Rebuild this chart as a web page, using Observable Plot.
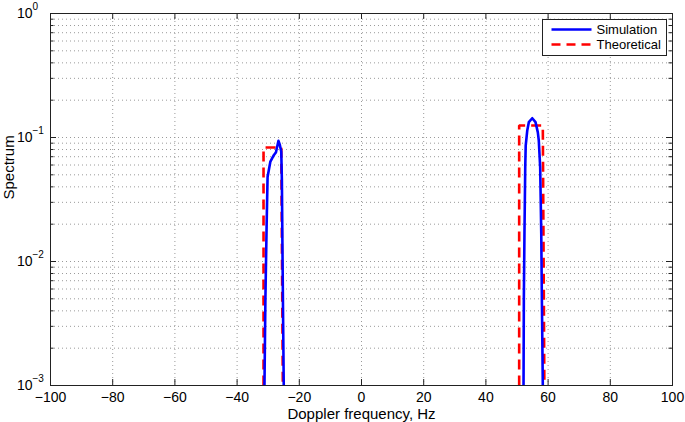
<!DOCTYPE html>
<html>
<head>
<meta charset="utf-8">
<script src="https://cdn.jsdelivr.net/npm/d3@7"></script>
<script src="https://cdn.jsdelivr.net/npm/@observablehq/plot@0.6"></script>
<style>
  html, body { margin: 0; padding: 0; background: white; }
</style>
</head>
<body>
<div id="chart"></div>
<script>
// ---- data ----
const simLeftFreq  = [-31.2, -30.9, -30.5, -30.2, -29.3, -28.2, -27.5, -26.7, -26.3, -25.8, -25.6, -25.4, -25.2, -25.0];
const simLeftSpec  = [0.001, 0.005, 0.02, 0.048, 0.064, 0.072, 0.076, 0.094, 0.088, 0.077, 0.045, 0.0116, 0.0033, 0.001];
const simRightFreq = [52.1, 52.2, 52.4, 52.65, 52.8, 53.3, 53.8, 54.9, 55.95, 56.7, 57.0, 57.45, 57.8, 58.0, 58.3];
const simRightSpec = [0.001, 0.0049, 0.017, 0.058, 0.086, 0.114, 0.133, 0.143, 0.133, 0.110, 0.095, 0.058, 0.0168, 0.0049, 0.001];
const theoLeftFreq  = [-31.5, -31.5, -25.8, -25.3];
const theoLeftSpec  = [0.001, 0.083, 0.083, 0.001];
const theoRightFreq = [50.7, 50.7, 58.3, 58.8];
const theoRightSpec = [0.001, 0.125, 0.125, 0.001];

const xTicks = [-100, -80, -60, -40, -20, 0, 20, 40, 60, 80, 100];
const yMajor = [1e-3, 1e-2, 1e-1, 1];
const yExponents = ["\u22123", "\u22122", "\u22121", "0"];
const seriesNames = ["Simulation", "Theoretical"];
const xLabel = "Doppler frequency, Hz";
const yLabel = "Spectrum";

// ---- tables built from the arrays ----
const toRows = (fs, vs, peak) => fs.map((f, i) => ({f, v: vs[i], peak}));
const sim = [...toRows(simLeftFreq, simLeftSpec, "L"), ...toRows(simRightFreq, simRightSpec, "R")];
const theo = [...toRows(theoLeftFreq, theoLeftSpec, "L"), ...toRows(theoRightFreq, theoRightSpec, "R")];
const yMinor = yMajor.slice(0, 3).flatMap(m => d3.range(2, 10).map(k => k * m));
const yAll = [...yMajor, ...yMinor];

const W = 685, H = 422, mL = 50, mR = 13, mT = 13, mB = 37;
const fw = W - mL - mR, fh = H - mT - mB;
const font = "'Liberation Sans', Arial, Helvetica, sans-serif";
const gridStyle = {stroke: "#9a9a9a", strokeDasharray: "1,3", strokeWidth: 1};

const svg = Plot.plot({
  width: W, height: H,
  marginLeft: mL, marginRight: mR, marginTop: mT, marginBottom: mB,
  style: {fontFamily: font, fontSize: "14px", background: "white", color: "black"},
  x: {domain: [-100, 100], ticks: xTicks, tickSize: 0, tickPadding: 7, label: null},
  y: {type: "log", domain: [1e-3, 1], axis: null},
  marks: [
    Plot.ruleX(xTicks, {x: d => d, ...gridStyle}),
    Plot.ruleY(yAll, {y: d => d, ...gridStyle}),
    Plot.line(theo, {x: "f", y: "v", z: "peak", stroke: "#ff0000", strokeWidth: 2.6,
      strokeDasharray: "10,6", strokeLinecap: "butt", strokeLinejoin: "miter", curve: "linear"}),
    Plot.line(sim, {x: "f", y: "v", z: "peak", stroke: "#0000ff", strokeWidth: 2.6,
      strokeLinecap: "butt", strokeLinejoin: "round", curve: "linear"}),
    Plot.frame({stroke: "#222", strokeWidth: 1}),
    // inward ticks on all four sides
    Plot.tickX(xTicks, {x: d => d, insetTop: fh - 6, stroke: "#222"}),
    Plot.tickX(xTicks, {x: d => d, insetBottom: fh - 6, stroke: "#222"}),
    Plot.tickY(yMajor, {y: d => d, insetRight: fw - 6, stroke: "#222"}),
    Plot.tickY(yMajor, {y: d => d, insetLeft: fw - 6, stroke: "#222"}),
    Plot.tickY(yMinor, {y: d => d, insetRight: fw - 3.5, stroke: "#222"}),
    Plot.tickY(yMinor, {y: d => d, insetLeft: fw - 3.5, stroke: "#222"}),
    // y tick labels 10^n
    Plot.text(yMajor, {y: d => d, frameAnchor: "left", dx: -18, textAnchor: "end", text: () => "10", fontSize: 14}),
    Plot.text(yMajor, {y: d => d, frameAnchor: "left", dx: -18, dy: -7, textAnchor: "start",
      text: (d, i) => yExponents[i], fontSize: 10}),
    // axis titles
    Plot.text([xLabel], {frameAnchor: "bottom", dy: 23, lineAnchor: "top", text: d => d, fontSize: 15}),
    Plot.text([yLabel], {frameAnchor: "left", dx: -41, rotate: -90, text: d => d, fontSize: 15})
  ]
});

// legend box
const lg = d3.select(svg).append("g").attr("font-family", font).attr("font-size", 13)
  .attr("text-anchor", "start");
lg.append("rect").attr("x", 542.5).attr("y", 19.5).attr("width", 124).attr("height", 36)
  .attr("fill", "white").attr("stroke", "#222").attr("stroke-width", 1);
const legendItems = [
  {name: seriesNames[0], color: "#0000ff", dash: null, y: 29.5},
  {name: seriesNames[1], color: "#ff0000", dash: "9,6", y: 44.5}
];
legendItems.forEach(it => {
  lg.append("line").attr("x1", 551.5).attr("x2", 591.5).attr("y1", it.y).attr("y2", it.y)
    .attr("stroke", it.color).attr("stroke-width", 2.6)
    .attr("stroke-dasharray", it.dash);
  lg.append("text").attr("x", 596.5).attr("y", it.y).attr("dy", "0.35em")
    .attr("text-anchor", "start").text(it.name);
});

document.getElementById("chart").appendChild(svg);
</script>
</body>
</html>
